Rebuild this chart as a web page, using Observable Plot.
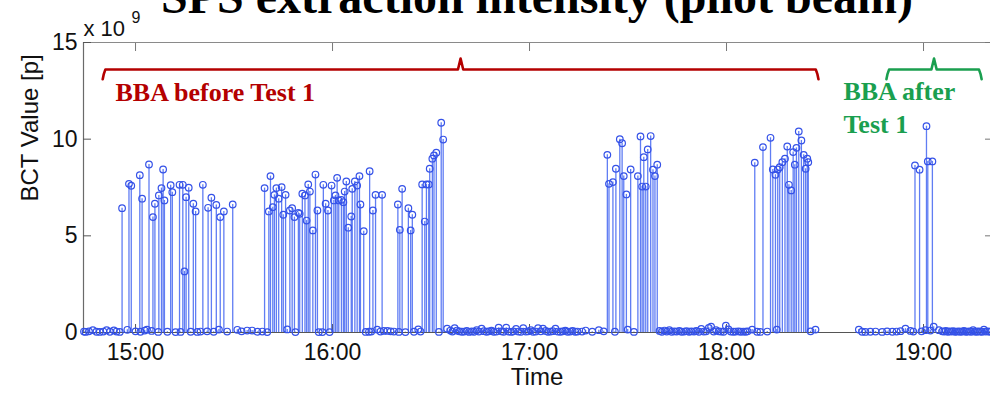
<!DOCTYPE html>
<html>
<head>
<meta charset="utf-8">
<script src="https://cdn.jsdelivr.net/npm/d3@7"></script>
<script src="https://cdn.jsdelivr.net/npm/@observablehq/plot@0.6"></script>
<style>
  html, body { margin: 0; padding: 0; background: #fff; }
  #chart { width: 990px; height: 394px; overflow: hidden; }
</style>
</head>
<body>
<div id="chart"></div>
<script>
// SPS extraction intensity of the pilot beam, BCT readings in units of 1e9 protons.
// Times are minutes after 14:00.

// Extractions with beam
const beamMinutes = [
  55.9, 58.0, 58.7, 61.3, 62.0, 64.1, 65.3, 65.9, 67.1, 67.9, 68.4, 68.8, 70.7, 71.2,
  73.4, 74.4, 74.9, 75.4, 76.2, 77.6, 78.3, 80.5, 82.1, 83.1, 84.6, 85.8, 86.9, 89.6,
  99.3, 100.6, 101.1, 101.8, 102.3, 102.9, 103.6, 104.5, 105.0, 105.7, 107.0, 107.7,
  108.4, 109.6, 110.0, 110.8, 111.6, 112.1, 112.6, 113.1, 114.0, 114.8, 115.4, 117.2,
  117.9, 118.6, 119.7, 120.4, 120.9, 121.4, 121.9, 122.7, 123.3, 123.7, 124.2, 124.8,
  125.7, 126.0, 126.8, 127.5, 128.2, 128.5, 129.5, 131.3, 132.3, 133.1, 135.1, 139.9,
  140.5, 141.2, 143.1, 143.8, 144.3, 147.3, 148.1, 148.6, 149.3, 149.6, 150.4, 150.9,
  151.6, 153.1, 153.7,
  203.7, 204.2, 205.4, 206.3, 207.5, 208.2, 208.7, 209.5, 210.8, 213.0, 213.8, 214.3,
  214.8, 215.4, 216.0, 216.9, 217.6, 218.2, 218.9,
  248.6, 251.1, 253.4, 254.1, 254.9, 255.6, 256.2, 257.0, 257.8, 258.5, 259.0, 259.7,
  260.3, 260.8, 261.3, 262.0, 262.8, 263.5, 264.1, 264.6, 264.9,
  297.4, 298.8, 300.9, 301.3, 302.7
];
const beamValues = [
  6.43, 7.69, 7.59, 8.14, 6.92, 8.69, 5.97, 6.66, 7.09, 7.47, 8.43, 6.83, 7.62, 7.26,
  7.64, 7.64, 3.16, 7.00, 7.49, 6.66, 6.26, 7.64, 6.45, 6.97, 6.60, 5.97, 6.26, 6.62,
  7.47, 6.26, 8.09, 6.48, 7.12, 7.47, 6.92, 7.52, 6.09, 7.12, 6.31, 6.43,
  5.97, 6.19, 6.14, 7.18, 7.09, 5.79, 7.66, 7.29, 5.28, 8.17, 6.31, 7.64,
  6.66, 6.31, 7.60, 6.83, 7.09, 8.00, 6.83, 6.86, 6.74, 7.29, 7.81, 5.42,
  6.00, 7.43, 7.81, 7.60, 8.09, 6.62, 5.24, 8.34, 6.31, 7.12, 7.12, 6.62,
  5.31, 7.43, 6.43, 5.28, 6.09, 7.66, 5.74, 7.66, 7.66, 8.47, 8.99, 9.16,
  9.30, 10.85, 9.98,
  9.19, 7.69, 7.78, 8.47, 10.00, 9.79, 8.09, 7.14, 8.43, 8.09, 10.14, 7.55,
  9.07, 7.55, 9.47, 10.16, 8.42, 8.09, 8.68,
  8.78, 9.59, 10.07, 8.43, 8.16, 8.43, 8.55, 8.81, 8.99, 9.62, 7.64, 7.35,
  9.33, 8.68, 9.55, 10.40, 9.93, 9.19, 8.47, 8.99, 8.81,
  8.64, 8.42, 10.67, 8.85, 8.85
];

// Cycles without extracted beam
const idleMinutes = [
  44.3, 44.8, 45.8, 47.0, 48.1, 49.1, 50.2, 51.2, 52.2, 53.4, 54.2, 55.2, 57.5, 60.0,
  61.5, 62.8, 63.5, 64.9, 66.9, 69.7, 72.2, 73.7, 76.8, 78.8, 79.8, 81.8, 83.8, 85.4,
  87.9, 91.0, 92.3, 94.0, 95.5, 97.1, 98.6,
  100.1, 106.2, 108.7, 115.8, 116.9, 119.1, 130.1, 131.1, 131.8, 133.6, 134.6, 135.6,
  136.7, 137.7, 138.7, 140.2, 142.2, 144.8, 146.1, 146.8, 152.4, 154.9, 155.9, 156.5,
  157.2, 157.9, 158.6, 159.4, 160.1, 160.9, 161.6, 162.4, 163.1, 163.9, 164.6, 165.4,
  166.1, 166.9, 167.6, 168.4, 169.1, 169.9, 170.6, 171.4, 172.1, 172.9, 173.6, 174.4,
  175.1, 175.9, 176.6, 177.4, 178.1, 178.9, 179.6, 180.4, 181.1, 181.9, 182.6, 183.4,
  184.1, 184.9, 185.6, 186.4, 187.1, 187.9, 188.6, 189.4, 190.1, 190.9, 191.6, 192.4,
  193.1, 193.9, 194.6, 196.0, 197.1, 199.1, 201.1, 202.6, 206.0, 209.9, 211.8,
  219.6, 220.3, 221.1, 221.8, 222.6, 223.3, 224.1, 224.8, 225.6, 226.3, 227.1, 227.8,
  228.6, 229.3, 230.1, 230.8, 231.6, 232.3, 233.1, 233.8, 234.6, 235.3, 236.1, 236.8,
  237.6, 238.3, 239.1, 239.8, 240.6, 241.3, 242.1, 242.8, 243.6, 244.3, 245.1, 245.8,
  246.4, 247.8, 249.3, 250.3, 252.4, 255.3, 265.6, 267.1,
  280.3, 281.3, 282.3, 283.8, 285.4, 287.4, 288.9, 290.5, 291.8, 293.0, 294.5, 296.0,
  296.9, 299.4, 300.6, 302.1, 303.1, 304.7, 305.7, 306.3, 306.8, 307.4, 307.9, 308.5,
  309.0, 309.6, 310.1, 310.7, 311.2, 311.8, 312.3, 312.9, 313.4, 314.0, 314.5, 315.1,
  315.6, 316.2, 316.7, 317.3, 317.8, 318.4, 318.9, 319.5, 320.0, 320.5
];
const idleValues = [
  0.05, 0.03, 0.06, 0.12, 0.04, 0.03, 0.05, 0.12, 0.04, 0.11, 0.05, 0.03, 0.14, 0.06,
  0.04, 0.10, 0.15, 0.08, 0.03, 0.04, 0.02, 0.03, 0.04, 0.03, 0.05, 0.06, 0.04, 0.15,
  0.05, 0.14, 0.06, 0.10, 0.10, 0.04, 0.05,
  0.02, 0.16, 0.02, 0.02, 0.02, 0.02, 0.03, 0.04, 0.05, 0.15, 0.05, 0.08,
  0.08, 0.06, 0.05, 0.03, 0.02, 0.04, 0.16, 0.05, 0.03, 0.20, 0.10, 0.05,
  0.22, 0.10, 0.06, 0.04, 0.05, 0.08, 0.03, 0.06, 0.04, 0.12, 0.05, 0.20,
  0.07, 0.04, 0.06, 0.09, 0.04, 0.05, 0.25, 0.06, 0.04, 0.25, 0.05, 0.03,
  0.06, 0.18, 0.05, 0.04, 0.22, 0.05, 0.06, 0.12, 0.04, 0.05, 0.22, 0.06,
  0.20, 0.08, 0.04, 0.05, 0.07, 0.20, 0.05, 0.04, 0.06, 0.09, 0.04, 0.05,
  0.08, 0.04, 0.05, 0.05, 0.10, 0.04, 0.12, 0.06, 0.04, 0.15, 0.03,
  0.08, 0.04, 0.10, 0.05, 0.12, 0.04, 0.06, 0.05, 0.08, 0.04, 0.05, 0.07,
  0.04, 0.06, 0.05, 0.08, 0.04, 0.18, 0.05, 0.06, 0.24, 0.30, 0.05, 0.12,
  0.06, 0.05, 0.04, 0.35, 0.16, 0.05, 0.04, 0.05, 0.06, 0.04, 0.05, 0.04,
  0.06, 0.15, 0.04, 0.03, 0.05, 0.15, 0.06, 0.15,
  0.15, 0.04, 0.03, 0.04, 0.05, 0.03, 0.06, 0.04, 0.05, 0.07, 0.20, 0.08,
  0.05, 0.06, 0.12, 0.10, 0.30, 0.12, 0.06, 0.05, 0.08, 0.04, 0.06, 0.05,
  0.07, 0.04, 0.05, 0.06, 0.04, 0.05, 0.08, 0.04, 0.05, 0.06, 0.04, 0.12,
  0.05, 0.04, 0.06, 0.05, 0.04, 0.15, 0.05, 0.06, 0.05, 0.04
];

// Axis ticks
const hourTicks = ["15:00", "16:00", "17:00", "18:00", "19:00"];
const valueTicks = [0, 5, 10, 15];

// Beam-based alignment phases (minutes after 14:00)
const phaseLabels = ["BBA before Test 1", "BBA after\nTest 1"];
const phaseStart = [50.0, 288.7];
const phaseEnd = [268.0, 317.7];
const phaseColors = ["#b40000", "#1a9f4f"];

const title = "SPS extraction intensity (pilot beam)";

// ---------------------------------------------------------------------------
const base = new Date(2011, 10, 1, 14, 0, 0);
const at = (m) => new Date(+base + m * 60000);
const clock = (s) => { const [h, mm] = s.split(":").map(Number); return new Date(2011, 10, 1, h, mm, 0); };

const beam = beamMinutes.map((m, i) => ({time: at(m), value: beamValues[i]}));
const idle = idleMinutes.map((m, i) => ({time: at(m), value: idleValues[i]}));
const points = [...idle, ...beam].sort((a, b) => a.time - b.time);
const hours = hourTicks.map(clock);

const xDomain = [at(44.15), at(320.4)];

// Brace over each phase: ends turned down, a small cusp at the middle.
const braceLevel = 13.6, braceFoot = 13.1, braceTip = 14.17, cusp = 0.8;
const braces = phaseLabels.map((label, i) => {
  const a = phaseStart[i], b = phaseEnd[i], mid = (a + b) / 2;
  return [
    [a, braceFoot], [a + 0.3, braceLevel - 0.25], [a + 0.8, braceLevel],
    [mid - cusp, braceLevel], [mid, braceTip], [mid + cusp, braceLevel],
    [b - 0.8, braceLevel], [b - 0.3, braceLevel - 0.25], [b, braceFoot]
  ].map(([m, v]) => ({time: at(m), value: v, phase: i}));
});

const stemColor = "#4f6ff2";
const markColor = "#3552e8";
const serif = "'Liberation Serif', 'DejaVu Serif', serif";

const chart = Plot.plot({
  width: 990,
  height: 394,
  marginLeft: 83,
  marginRight: 0,
  marginTop: 42,
  marginBottom: 62,
  style: {fontFamily: "'Liberation Sans', Arial, sans-serif", background: "#fff", color: "#111"},
  x: {type: "time", domain: xDomain},
  y: {domain: [0, 15]},
  marks: [
    // box
    Plot.ruleY([15], {stroke: "#8a8a8a", strokeWidth: 1.2}),
    Plot.ruleX([xDomain[0]], {stroke: "#6a6a6a", strokeWidth: 1.2}),
    // axes with inward ticks
    Plot.axisY({ticks: valueTicks, tickSize: -8, tickPadding: 14, fontSize: 23, label: null, stroke: "#555"}),
    Plot.axisY({anchor: "right", ticks: valueTicks, tickSize: -6, tickFormat: () => "", label: null, stroke: "#777"}),
    Plot.axisX({ticks: hours, tickFormat: d3.timeFormat("%H:%M"), tickSize: -8, tickPadding: 19, fontSize: 23, label: null, stroke: "#555"}),
    Plot.axisX({anchor: "top", ticks: hours, tickSize: -8, tickFormat: () => "", label: null, stroke: "#777"}),
    // stems and markers
    Plot.ruleX(points, {x: "time", y1: 0, y2: "value", stroke: stemColor, strokeWidth: 1.3, strokeOpacity: 0.9}),
    Plot.ruleY([0], {stroke: "#555", strokeWidth: 1.2}),
    Plot.dot(points, {x: "time", y: "value", r: 3.3, stroke: markColor, strokeWidth: 1.2, fill: "none"}),
    // phase braces and labels
    ...braces.map((pts, i) => Plot.line(pts, {x: "time", y: "value", stroke: phaseColors[i], strokeWidth: 2.6, curve: "linear", strokeLinejoin: "round"})),
    Plot.text([phaseLabels[0]], {x: at(53.9), y: 12.0, text: (d) => d, textAnchor: "start", lineAnchor: "bottom",
      fill: phaseColors[0], fontFamily: serif, fontWeight: "bold", fontSize: 26}),
    Plot.text([phaseLabels[1]], {x: at(275.6), y: 10.3, text: (d) => d, textAnchor: "start", lineAnchor: "bottom",
      lineHeight: 1.27, fill: phaseColors[1], fontFamily: serif, fontWeight: "bold", fontSize: 26}),
    // titles
    Plot.text([title], {frameAnchor: "top", dy: -30, lineAnchor: "bottom", fontFamily: serif, fontWeight: "bold", fontSize: 48, fill: "#000"}),
    Plot.text(["x 10"], {frameAnchor: "top-left", dy: -7, lineAnchor: "bottom", textAnchor: "start", fontSize: 22, fill: "#111"}),
    Plot.text(["9"], {frameAnchor: "top-left", dx: 48, dy: -20, lineAnchor: "bottom", textAnchor: "start", fontSize: 16, fill: "#111"}),
    Plot.text(["BCT Value [p]"], {frameAnchor: "left", dx: -53, dy: 14, rotate: -90, fontSize: 24, fill: "#111"}),
    Plot.text(["Time"], {frameAnchor: "bottom", dy: 52, fontSize: 24, fill: "#111"})
  ]
});

document.getElementById("chart").append(chart);
</script>
</body>
</html>
